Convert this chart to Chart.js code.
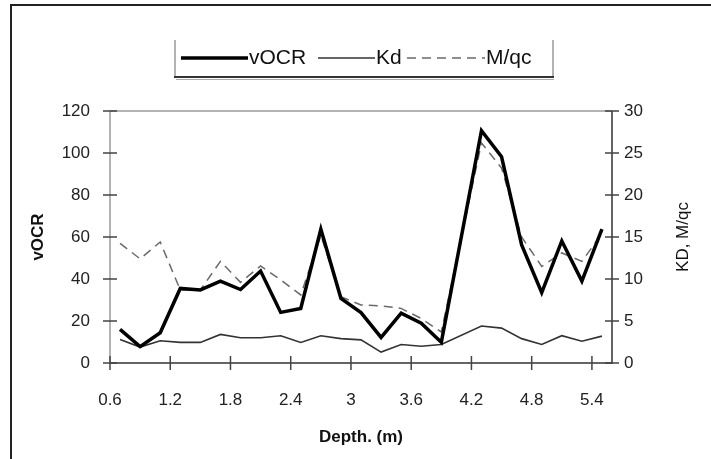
<!DOCTYPE html>
<html>
<head>
<meta charset="utf-8">
<script src="https://cdn.jsdelivr.net/npm/chart.js@4/dist/chart.umd.min.js"></script>
<style>
  html, body { margin: 0; padding: 0; background: #fff; }
  #wrap { width: 711px; height: 459px; position: relative; }
</style>
</head>
<body>
<div id="wrap"><canvas id="c" width="711" height="459"></canvas></div>
<script>
// Depth profile: vOCR (left axis), Kd and M/qc (right axis)
const depths = [0.7, 0.9, 1.1, 1.3, 1.5, 1.7, 1.9, 2.1, 2.3, 2.5, 2.7, 2.9, 3.1, 3.3, 3.5, 3.7, 3.9, 4.3, 4.5, 4.7, 4.9, 5.1, 5.3, 5.5];
const vOCR   = [16, 7.8, 14.4, 35.5, 34.8, 39, 35, 43.8, 24.1, 26, 63.7, 30.8, 24, 12.2, 23.7, 18.9, 9.9, 110.6, 98.2, 56.2, 33.5, 58.1, 39, 63.8];
const kd     = [2.8, 1.9, 2.65, 2.45, 2.45, 3.4, 3.0, 3.0, 3.25, 2.45, 3.25, 2.9, 2.75, 1.3, 2.2, 2.0, 2.2, 4.4, 4.15, 2.9, 2.2, 3.25, 2.6, 3.2];
const mqc    = [14.25, 12.4, 14.4, 8.7, 8.7, 12.1, 9.6, 11.55, 9.9, 8.1, 15.2, 7.9, 6.9, 6.8, 6.5, 5.3, 3.7, 26.2, 23.2, 15.0, 11.5, 13.1, 12.1, 15.4];

const xTicks     = [0.6, 1.2, 1.8, 2.4, 3, 3.6, 4.2, 4.8, 5.4];
const leftTicks  = [0, 20, 40, 60, 80, 100, 120];
const rightTicks = [0, 5, 10, 15, 20, 25, 30];

const FONT = '"Liberation Sans", Arial, Helvetica, sans-serif';

const pts = vals => depths.map((d, i) => ({ x: d, y: vals[i] }));

// Axis lines, crossing tick marks, axis titles, frame and legend
const decor = {
  id: 'decor',
  beforeDatasetsDraw(chart) {
    const ctx = chart.ctx;
    const a = chart.chartArea;
    const sx = chart.scales.x, sy = chart.scales.y, sr = chart.scales.y2;
    ctx.save();
    // plot outline
    ctx.lineWidth = 1.5;
    ctx.strokeStyle = '#9a9a9a';
    ctx.beginPath();
    ctx.moveTo(a.left, a.top); ctx.lineTo(a.right, a.top);
    ctx.moveTo(a.left, a.top); ctx.lineTo(a.left, a.bottom);
    ctx.stroke();
    ctx.strokeStyle = '#333';
    ctx.beginPath();
    ctx.moveTo(a.left, a.bottom); ctx.lineTo(a.right, a.bottom);
    ctx.moveTo(a.right, a.top); ctx.lineTo(a.right, a.bottom + 1);
    ctx.stroke();
    // tick marks straddling each axis
    const T = 7;
    ctx.lineWidth = 1.5;
    ctx.strokeStyle = '#444';
    ctx.beginPath();
    sx.ticks.forEach(t => { const px = sx.getPixelForValue(t.value); ctx.moveTo(px, a.bottom - T); ctx.lineTo(px, a.bottom + T); });
    sy.ticks.forEach(t => { const py = sy.getPixelForValue(t.value); ctx.moveTo(a.left - T, py); ctx.lineTo(a.left + T, py); });
    sr.ticks.forEach(t => { const py = sr.getPixelForValue(t.value); ctx.moveTo(a.right - T, py); ctx.lineTo(a.right + T, py); });
    ctx.stroke();
    ctx.restore();
  },
  afterDraw(chart) {
    const ctx = chart.ctx;
    const a = chart.chartArea;
    ctx.save();
    // outer frame
    ctx.strokeStyle = '#222';
    ctx.lineWidth = 2;
    ctx.beginPath();
    ctx.moveTo(711, 5); ctx.lineTo(11, 5); ctx.lineTo(11, 459);
    ctx.stroke();

    // axis titles
    ctx.fillStyle = '#111';
    ctx.textAlign = 'center';
    ctx.textBaseline = 'middle';
    ctx.font = 'bold 17px ' + FONT;
    ctx.fillText('Depth. (m)', (a.left + a.right) / 2, 437);
    ctx.save();
    ctx.translate(38, (a.top + a.bottom) / 2);
    ctx.rotate(-Math.PI / 2);
    ctx.fillText('vOCR', 0, 0);
    ctx.restore();
    ctx.save();
    ctx.font = '17px ' + FONT;
    ctx.translate(683, (a.top + a.bottom) / 2);
    ctx.rotate(-Math.PI / 2);
    ctx.fillText('KD, M/qc', 0, 0);
    ctx.restore();

    // legend: sample line then label for each series
    const ly = 58;
    const ds = chart.data.datasets;
    ctx.font = '21px ' + FONT;
    ctx.textAlign = 'left';
    ctx.fillStyle = '#111';
    const segs = [[181, 248], [318, 375], [407, 485]];
    ds.forEach((d, i) => {
      const [x0, x1] = segs[i];
      ctx.save();
      ctx.strokeStyle = d.borderColor;
      ctx.lineWidth = d.borderWidth;
      ctx.setLineDash(d.borderDash || []);
      ctx.beginPath();
      ctx.moveTo(x0, ly); ctx.lineTo(x1, ly);
      ctx.stroke();
      ctx.restore();
      ctx.fillText(d.label, x1 + 1, ly);
    });
    const boxR = 553;
    ctx.lineWidth = 1;
    ctx.strokeStyle = '#666';
    ctx.beginPath();
    ctx.moveTo(175, 40); ctx.lineTo(175, 77);
    ctx.moveTo(boxR, 40); ctx.lineTo(boxR, 77);
    ctx.stroke();
    ctx.lineWidth = 2;
    ctx.strokeStyle = '#333';
    ctx.beginPath();
    ctx.moveTo(174, 77); ctx.lineTo(boxR + 1, 77);
    ctx.stroke();
    ctx.lineWidth = 1;
    ctx.strokeStyle = '#aaa';
    ctx.beginPath();
    ctx.moveTo(176, 79.5); ctx.lineTo(boxR + 1, 79.5);
    ctx.stroke();
    ctx.restore();
  }
};

new Chart(document.getElementById('c'), {
  type: 'line',
  data: {
    datasets: [
      { label: 'vOCR', data: pts(vOCR), yAxisID: 'y', borderColor: '#000', borderWidth: 3.5, pointRadius: 0, tension: 0, borderJoinStyle: 'miter' },
      { label: 'Kd', data: pts(kd), yAxisID: 'y2', borderColor: '#333', borderWidth: 1.6, pointRadius: 0, tension: 0 },
      { label: 'M/qc', data: pts(mqc), yAxisID: 'y2', borderColor: '#6a6a6a', borderWidth: 1.5, borderDash: [9, 6], pointRadius: 0, tension: 0 }
    ]
  },
  options: {
    responsive: false,
    animation: false,
    events: [],
    layout: { padding: { top: 111, left: 0, right: 0, bottom: 0 } },
    plugins: { legend: { display: false }, tooltip: { enabled: false } },
    scales: {
      x: {
        type: 'linear', min: 0.6, max: 5.6,
        afterBuildTicks: s => { s.ticks = xTicks.map(v => ({ value: v })); },
        afterFit: s => { s.height = 96; },
        grid: { display: false, drawTicks: false },
        border: { display: false },
        ticks: { color: '#222', font: { family: FONT, size: 17 }, padding: 27, maxRotation: 0, autoSkip: false, callback: v => String(v) }
      },
      y: {
        position: 'left', min: 0, max: 120,
        afterBuildTicks: s => { s.ticks = leftTicks.map(v => ({ value: v })); },
        afterFit: s => { s.width = 110; },
        grid: { display: false, drawTicks: false },
        border: { display: false },
        ticks: { color: '#222', font: { family: FONT, size: 17 }, padding: 20 }
      },
      y2: {
        position: 'right', min: 0, max: 30,
        afterBuildTicks: s => { s.ticks = rightTicks.map(v => ({ value: v })); },
        afterFit: s => { s.width = 99; },
        grid: { display: false, drawTicks: false },
        border: { display: false },
        ticks: { color: '#222', font: { family: FONT, size: 17 }, padding: 12 }
      }
    }
  },
  plugins: [decor]
});
</script>
</body>
</html>
